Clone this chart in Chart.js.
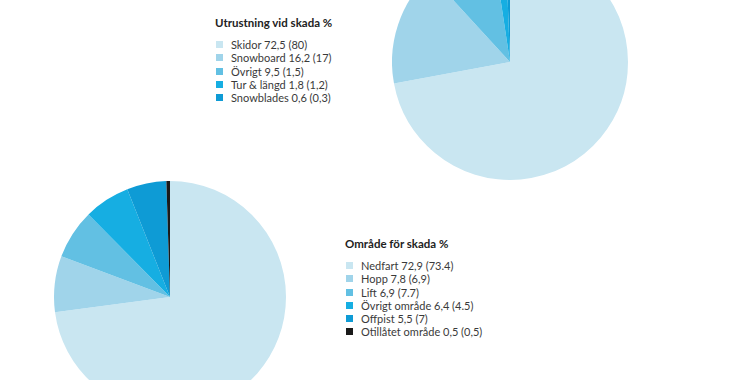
<!DOCTYPE html>
<html>
<head>
<meta charset="utf-8">
<script src="https://cdn.jsdelivr.net/npm/chart.js@4/dist/chart.umd.min.js"></script>
<style>
  html, body { margin: 0; padding: 0; background: #fff; width: 750px; height: 380px; overflow: hidden; position: relative; }
  canvas { position: absolute; }
  .legend { position: absolute; font-family: Lato, "Open Sans", sans-serif; color: #3a3a3a; }
  .legend .title { font-weight: bold; font-size: 11.5px; color: #222; height: 13px; line-height: 13px; margin-bottom: 9px; }
  .legend .row { font-size: 11px; height: 13.3px; line-height: 13px; white-space: nowrap; position: relative; padding-left: 16px; }
  .legend .sw { position: absolute; left: 1px; top: 3px; width: 7px; height: 7px; }
</style>
</head>
<body>
<canvas id="pie1" width="236" height="236" style="left:392px; top:-56px;"></canvas>
<canvas id="pie2" width="232" height="232" style="left:54px; top:181px;"></canvas>
<div class="legend" id="leg1" style="left:215px; top:16px;"></div>
<div class="legend" id="leg2" style="left:345px; top:237px;"></div>
<script>
// Chart 1: Utrustning vid skada %
const equipTitle = "Utrustning vid skada %";
const equipCategories = ["Skidor", "Snowboard", "Övrigt", "Tur & längd", "Snowblades"];
const equipValues = [72.5, 16.2, 9.5, 1.8, 0.6];
const equipPrevious = ["80", "17", "1,5", "1,2", "0,3"];
const equipColors = ["#c9e6f1", "#a0d4ea", "#62c0e3", "#16aee2", "#0e9bd5"];

// Chart 2: Område för skada %
const areaTitle = "Område för skada %";
const areaCategories = ["Nedfart", "Hopp", "Lift", "Övrigt område", "Offpist", "Otillåtet område"];
const areaValues = [72.9, 7.8, 6.9, 6.4, 5.5, 0.5];
const areaPrevious = ["73.4", "6,9", "7.7", "4.5", "7", "0,5"];
const areaColors = ["#c9e6f1", "#a0d4ea", "#62c0e3", "#16aee2", "#0e9bd5", "#1a1a1a"];

function fmt(v) { return String(v).replace('.', ','); }

function makePie(id, cats, vals, colors) {
  new Chart(document.getElementById(id), {
    type: 'pie',
    data: { labels: cats, datasets: [{ data: vals, backgroundColor: colors, borderWidth: 0 }] },
    options: {
      responsive: false,
      animation: false,
      layout: { padding: 0 },
      plugins: { legend: { display: false }, tooltip: { enabled: false } }
    }
  });
}

function makeLegend(id, title, cats, vals, prev, colors) {
  const el = document.getElementById(id);
  const t = document.createElement('div');
  t.className = 'title';
  t.textContent = title;
  el.appendChild(t);
  cats.forEach((c, i) => {
    const r = document.createElement('div');
    r.className = 'row';
    const s = document.createElement('span');
    s.className = 'sw';
    s.style.background = colors[i];
    r.appendChild(s);
    r.appendChild(document.createTextNode(c + ' ' + fmt(vals[i]) + ' (' + prev[i] + ')'));
    el.appendChild(r);
  });
}

makePie('pie1', equipCategories, equipValues, equipColors);
makePie('pie2', areaCategories, areaValues, areaColors);
makeLegend('leg1', equipTitle, equipCategories, equipValues, equipPrevious, equipColors);
makeLegend('leg2', areaTitle, areaCategories, areaValues, areaPrevious, areaColors);
</script>
</body>
</html>
